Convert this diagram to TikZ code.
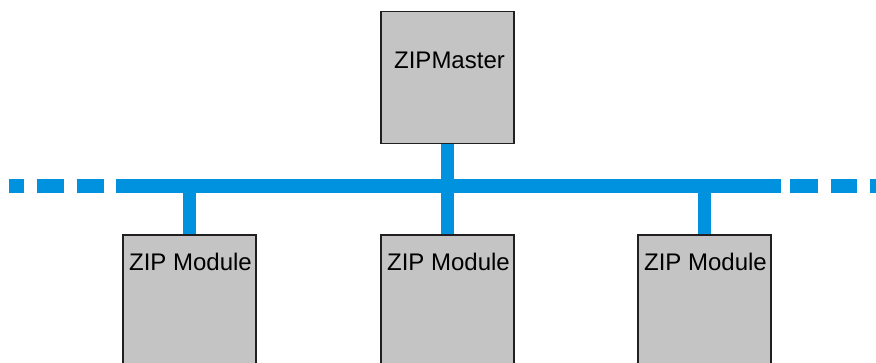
\documentclass[tikz,border=0pt]{standalone}
\usepackage{fontspec}
\setmainfont{Liberation Sans}
\usetikzlibrary{backgrounds}
\definecolor{busblue}{RGB}{0,146,222}
\definecolor{boxgray}{RGB}{196,196,196}
\definecolor{boxline}{RGB}{35,31,32}
\begin{document}
\begin{tikzpicture}[x=1pt,y=1pt,
  unit/.style={draw=boxline, fill=boxgray, line width=1.5pt,
               minimum width=133pt, inner sep=0pt, anchor=north},
  caption/.style={font=\fontsize{24}{28}\selectfont, inner sep=0pt, anchor=base},
  bus/.style={busblue, line width=14pt},
  tap/.style={busblue, line width=13.5pt}]
\useasboundingbox (0,0) rectangle (876,362);
\clip (0,0) rectangle (876,362);

% master and the three modules on the bus
\node[unit, minimum height=132pt] (master) at (447.5,351) {};
\node[unit, minimum height=140pt] (mod1) at (189.5,128) {};
\node[unit, minimum height=140pt] (mod2) at (447.5,128) {};
\node[unit, minimum height=140pt] (mod3) at (704.5,128) {};

\node[caption] (masterlbl) at (449.5,293.5) {ZIPMaster};
\node[caption] (lbl1) at (190.5,92) {ZIP Module};
\node[caption] (lbl2) at (448.5,92) {ZIP Module};
\node[caption] (lbl3) at (705.5,92) {ZIP Module};

% bus line with dashed continuation at both ends
\coordinate (busL) at (116,176);
\coordinate (busR) at (781,176);
\begin{scope}[on background layer]
  \draw[bus] (busL) -- (busR);
  \draw[bus] (9,176) -- (24,176);
  \draw[bus] (37,176) -- (64,176);
  \draw[bus] (77,176) -- (104,176);
  \draw[bus] (790,176) -- (818,176);
  \draw[bus] (831,176) -- (857,176);
  \draw[bus] (870,176) -- (890,176);
  \draw[tap] (master.south) -- (master.south |- busL);
  \draw[tap] (mod1.north |- busL) -- (mod1.north);
  \draw[tap] (mod2.north |- busL) -- (mod2.north);
  \draw[tap] (mod3.north |- busL) -- (mod3.north);
\end{scope}
\end{tikzpicture}
\end{document}
